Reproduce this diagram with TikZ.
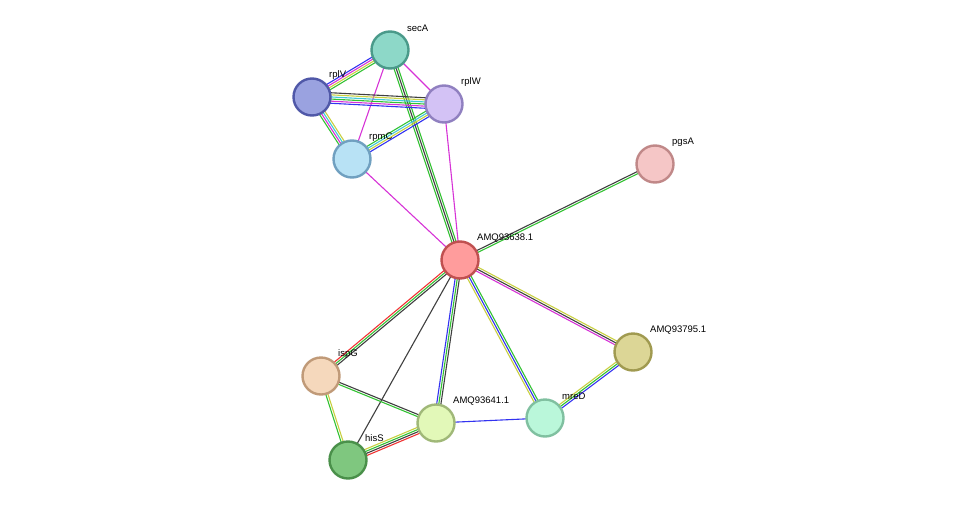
\documentclass[tikz,border=0pt]{standalone}
\usepackage{fontspec}
\setmainfont{Liberation Sans}
\usetikzlibrary{calc,positioning,backgrounds}

\definecolor{cgreen}{HTML}{33C233}
\definecolor{cblue}{HTML}{3333F0}
\definecolor{cmag}{HTML}{D633D6}
\definecolor{cyel}{HTML}{C8D040}
\definecolor{ccyan}{HTML}{40C8D8}
\definecolor{cred}{HTML}{F03333}
\definecolor{cblack}{HTML}{404040}

\definecolor{secAf}{HTML}{8DD8C8}\definecolor{secAd}{HTML}{4A9A8A}
\definecolor{rplVf}{HTML}{9AA2E0}\definecolor{rplVd}{HTML}{5058A8}
\definecolor{rplWf}{HTML}{D3C2F5}\definecolor{rplWd}{HTML}{9080C0}
\definecolor{rpmCf}{HTML}{B8E2F5}\definecolor{rpmCd}{HTML}{70A0C0}
\definecolor{pgsAf}{HTML}{F5C6C6}\definecolor{pgsAd}{HTML}{C08888}
\definecolor{hubf}{HTML}{FF9C9C}\definecolor{hubd}{HTML}{C05050}
\definecolor{amqEf}{HTML}{DCD696}\definecolor{amqEd}{HTML}{A09A50}
\definecolor{ispGf}{HTML}{F5D8BC}\definecolor{ispGd}{HTML}{C09A78}
\definecolor{amqAf}{HTML}{E2F8B8}\definecolor{amqAd}{HTML}{A0B878}
\definecolor{mreDf}{HTML}{BAF7DA}\definecolor{mreDd}{HTML}{80C0A0}
\definecolor{hisSf}{HTML}{7FC77F}\definecolor{hisSd}{HTML}{4A904A}

\tikzset{
  prot/.style={circle, minimum size=37pt, inner sep=0pt, line width=2.4pt, fill=#1f, draw=#1d},
  lbl/.style={anchor=west, font=\fontsize{9.5}{11}\selectfont, inner sep=0pt}
}

% parallel coloured lines between two nodes
\newcommand{\edgeN}[4]{%
  \foreach \c [count=\k] in {#4}{%
    \pgfmathsetmacro{\off}{(\k-(#3+1)/2)*2.1}%
    \draw[\c, line width=1.1pt] ($(#1.center)!\off pt!90:(#2.center)$) -- ($(#2.center)!\off pt!-90:(#1.center)$);
  }}

\begin{document}
\begin{tikzpicture}[x=1pt, y=-1pt]
\useasboundingbox (0,0) rectangle (976,506);

% nodes
\node[prot=secA] (secA) at (390,50) {};
\node[prot=rplV] (rplV) at (312,97) {};
\node[prot=rplW] (rplW) at (444,104) {};
\node[prot=rpmC] (rpmC) at (352,159) {};
\node[prot=pgsA] (pgsA) at (655,164) {};
\node[prot=hub] (hub) at (460,260) {};
\node[prot=amqE] (amq795) at (633,352) {};
\node[prot=ispG] (ispG) at (321,376) {};
\node[prot=amqA] (amq641) at (436,423) {};
\node[prot=mreD] (mreD) at (545,418) {};
\node[prot=hisS] (hisS) at (348,460) {};

% edges
\begin{scope}[on background layer]
\edgeN{secA}{rplV}{4}{cblue,cmag,cyel,cgreen}
\edgeN{secA}{rplW}{1}{cmag}
\edgeN{secA}{rpmC}{1}{cmag}
\edgeN{secA}{hub}{3}{cgreen,cblack,cgreen}
\edgeN{rplV}{rplW}{6}{cblue,cmag,cgreen,ccyan,cyel,cblack}
\edgeN{rplV}{rpmC}{4}{cgreen,cmag,ccyan,cyel}
\edgeN{rplW}{rpmC}{4}{cgreen,ccyan,cyel,cblue}
\edgeN{rplW}{hub}{1}{cmag}
\edgeN{rpmC}{hub}{1}{cmag}
\edgeN{pgsA}{hub}{2}{cblack,cgreen}
\edgeN{hub}{amq795}{3}{cmag,cblack,cyel}
\edgeN{hub}{mreD}{3}{cyel,cblue,cgreen}
\edgeN{hub}{amq641}{3}{cblue,cgreen,cblack}
\edgeN{hub}{ispG}{3}{cred,cgreen,cblack}
\edgeN{hub}{hisS}{1}{cblack}
\edgeN{mreD}{amq795}{3}{cblue,cgreen,cyel}
\edgeN{mreD}{amq641}{1}{cblue}
\edgeN{ispG}{amq641}{2}{cgreen,cblack}
\edgeN{ispG}{hisS}{2}{cgreen,cyel}
\edgeN{hisS}{amq641}{4}{cred,cblack,cgreen,cyel}
\end{scope}

% labels
\node[lbl] at ($(secA)+(17,-22)$) {secA};
\node[lbl] at ($(rplV)+(17,-22)$) {rplV};
\node[lbl] at ($(rplW)+(17,-22)$) {rplW};
\node[lbl] at ($(rpmC)+(17,-22)$) {rpmC};
\node[lbl] at ($(pgsA)+(17,-22)$) {pgsA};
\node[lbl] at ($(hub)+(17,-22)$) {AMQ93638.1};
\node[lbl] at ($(amq795)+(17,-22)$) {AMQ93795.1};
\node[lbl] at ($(ispG)+(17,-22)$) {ispG};
\node[lbl] at ($(amq641)+(17,-22)$) {AMQ93641.1};
\node[lbl] at ($(mreD)+(17,-22)$) {mreD};
\node[lbl] at ($(hisS)+(17,-22)$) {hisS};
\end{tikzpicture}
\end{document}
